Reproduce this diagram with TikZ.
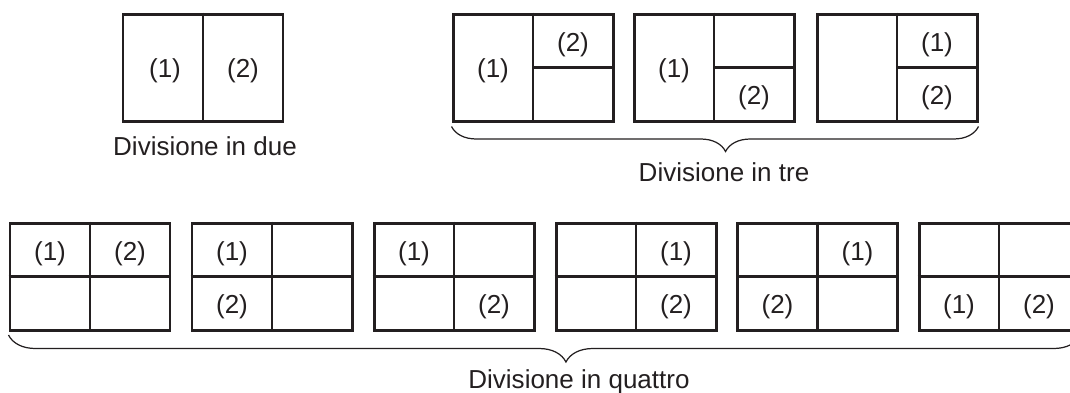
\documentclass[tikz,border=0pt]{standalone}
\usepackage{fontspec}
\setmainfont{Liberation Sans}
\usetikzlibrary{decorations.pathreplacing}
\definecolor{ink}{HTML}{231F20}
\pgfkeys{tikz/mypanel/.style={draw=ink, line width=1.7pt, minimum width=3.2cm, minimum height=2.14cm, inner sep=0pt}}
\pgfkeys{tikz/mydiv/.style={draw=ink, line width=1.4pt}}
\pgfkeys{tikz/mylabel/.style={text=ink, font=\fontsize{14.8}{17}\selectfont, inner sep=0pt}}
\pgfkeys{tikz/mybrace/.style={draw=ink, line width=0.7pt, decorate, decoration={brace, mirror, aspect=0.52}}}
\begin{document}
\begin{tikzpicture}
\clip (0,0) rectangle (21.4,-7.84);
% divisione in due
\draw (4.06,-1.35) node[mypanel] (due) {};
\draw [mydiv] (due.north) -- (due.south);
\draw (3.30,-1.42) node[mylabel] (due1) {(1)};
\draw (4.86,-1.42) node[mylabel] (due2) {(2)};
\draw (4.1,-3.1) node[mylabel, anchor=base] (duecap) {Divisione in due};
% divisione in tre
\draw (10.66,-1.35) node[mypanel] (treA) {};
\draw (14.28,-1.35) node[mypanel] (treB) {};
\draw (17.94,-1.35) node[mypanel] (treC) {};
\draw [mydiv] (treA.north) -- (treA.south); \draw [mydiv] (treA.center) -- (treA.east);
\draw [mydiv] (treB.north) -- (treB.south); \draw [mydiv] (treB.center) -- (treB.east);
\draw [mydiv] (treC.north) -- (treC.south); \draw [mydiv] (treC.center) -- (treC.east);
\draw (9.86,-1.42) node[mylabel] (treA1) {(1)};
\draw (11.46,-0.89) node[mylabel] (treA2) {(2)};
\draw (13.48,-1.42) node[mylabel] (treB1) {(1)};
\draw (15.08,-1.96) node[mylabel] (treB2) {(2)};
\draw (18.74,-0.89) node[mylabel] (treC1) {(1)};
\draw (18.74,-1.96) node[mylabel] (treC2) {(2)};
\draw [mybrace, decoration={amplitude=0.5cm, raise=0.08cm}] (treA.south west) -- (treC.south east);
\draw (14.48,-3.62) node[mylabel, anchor=base] (trecap) {Divisione in tre};
% divisione in quattro
\draw (1.80,-5.53) node[mypanel] (qA) {};
\draw (5.44,-5.53) node[mypanel] (qB) {};
\draw (9.08,-5.53) node[mypanel] (qC) {};
\draw (12.72,-5.53) node[mypanel] (qD) {};
\draw (16.35,-5.53) node[mypanel] (qE) {};
\draw (19.98,-5.53) node[mypanel] (qF) {};
\draw [mydiv] (qA.north) -- (qA.south); \draw [mydiv] (qA.west) -- (qA.east);
\draw [mydiv] (qB.north) -- (qB.south); \draw [mydiv] (qB.west) -- (qB.east);
\draw [mydiv] (qC.north) -- (qC.south); \draw [mydiv] (qC.west) -- (qC.east);
\draw [mydiv] (qD.north) -- (qD.south); \draw [mydiv] (qD.west) -- (qD.east);
\draw [mydiv] (qE.north) -- (qE.south); \draw [mydiv] (qE.west) -- (qE.east);
\draw [mydiv] (qF.north) -- (qF.south); \draw [mydiv] (qF.west) -- (qF.east);
\draw (1.00,-5.07) node[mylabel] (qA1) {(1)};
\draw (2.60,-5.07) node[mylabel] (qA2) {(2)};
\draw (4.64,-5.07) node[mylabel] (qB1) {(1)};
\draw (4.64,-6.14) node[mylabel] (qB2) {(2)};
\draw (8.28,-5.07) node[mylabel] (qC1) {(1)};
\draw (9.88,-6.14) node[mylabel] (qC2) {(2)};
\draw (13.52,-5.07) node[mylabel] (qD1) {(1)};
\draw (13.52,-6.14) node[mylabel] (qD2) {(2)};
\draw (17.15,-5.07) node[mylabel] (qE1) {(1)};
\draw (15.55,-6.14) node[mylabel] (qE2) {(2)};
\draw (19.18,-6.14) node[mylabel] (qF1) {(1)};
\draw (20.78,-6.14) node[mylabel] (qF2) {(2)};
\draw [mybrace, decoration={amplitude=0.54cm, raise=0.07cm}] (qA.south west) -- (qF.south east);
\draw (11.58,-7.76) node[mylabel, anchor=base] (qcap) {Divisione in quattro};
\end{tikzpicture}
\end{document}
